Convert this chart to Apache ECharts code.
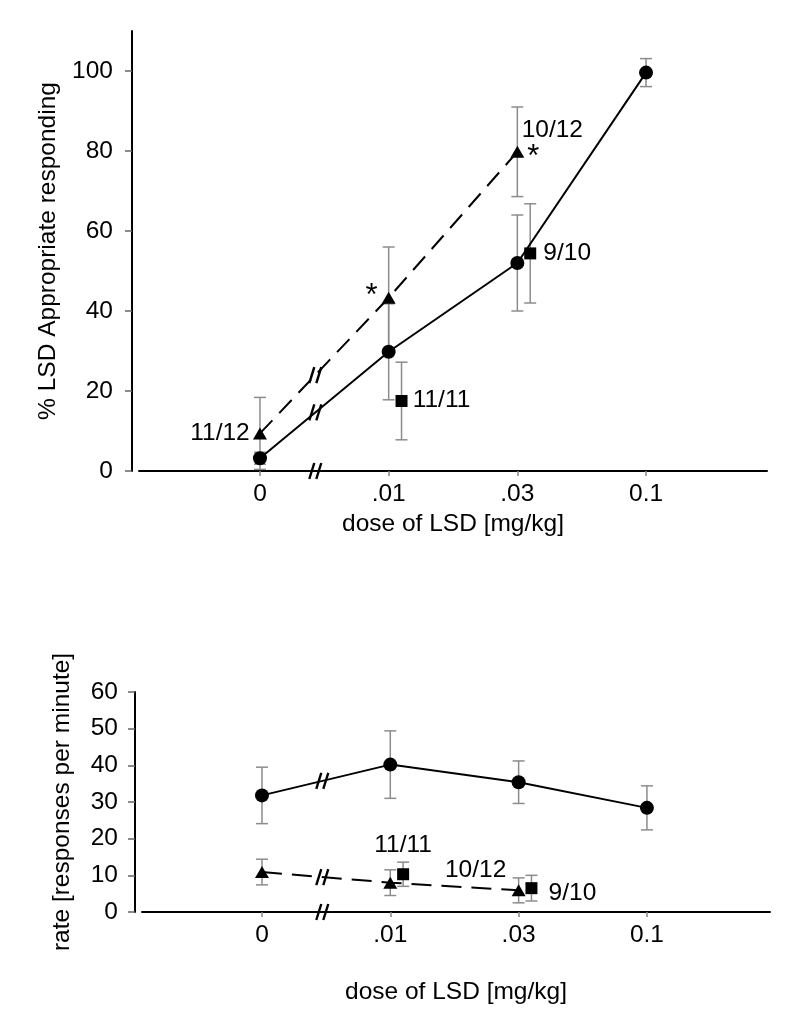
<!DOCTYPE html>
<html><head><meta charset="utf-8">
<script src="https://cdn.jsdelivr.net/npm/echarts@6/dist/echarts.min.js"></script>
<style>html,body{margin:0;padding:0;background:#fff}#c{width:800px;height:1036px}</style>
</head><body><div id="c"></div>
<script>
// ---------- data ----------
const doseLabels = ['0', '.01', '.03', '0.1'];
const doseIdx = [0, 1, 2, 3];
const yTicksTop = [0, 20, 40, 60, 80, 100];
const yTicksBottom = [0, 10, 20, 30, 40, 50, 60];

// top panel: % LSD appropriate responding
const topCircleMean = [3.2, 29.8, 52.0, 99.6];
const topCircleErr  = [1.5, 12.0, 12.0, 3.5];
const topTriMean = [9.4, 43.3, 79.8];
const topTriErr  = [9.0, 12.7, 11.2];
const topSqDose  = [1, 2];
const topSqMean  = [17.5, 54.4];
const topSqErr   = [9.7, 12.4];

// bottom panel: rate [responses per minute]
const botCircleMean = [31.8, 40.2, 35.4, 28.4];
const botCircleErr  = [7.7, 9.2, 5.8, 6.0];
const botTriMean = [10.9, 8.0, 5.9];
const botTriErr  = [3.5, 3.5, 3.4];
const botSqDose  = [1, 2];
const botSqMean  = [10.3, 6.5];
const botSqErr   = [3.3, 3.5];

// n labels
const topTriLabels = ['11/12', '*', '10/12'];
const topSqLabels  = ['11/11', '9/10'];
const botSqLabels  = ['11/11', '9/10'];
const botTriLabels = ['', '', '10/12'];

// ---------- helpers ----------
const FONT = '"Liberation Sans", Arial, sans-serif';
const FS = 24.5;
const SQ_SHIFT = 0.1;
const txt = {fontFamily: FONT, fontSize: FS, color: '#000'};

function errSeries(g, xs, means, errs) {
  return {
    type: 'custom', xAxisIndex: g, yAxisIndex: g, z: 1, silent: true,
    data: xs.map((x, i) => [x, means[i] - errs[i], means[i] + errs[i]]),
    renderItem(params, api) {
      const lo = api.coord([api.value(0), api.value(1)]);
      const hi = api.coord([api.value(0), api.value(2)]);
      const w = 6;
      const st = {stroke: '#8c8c8c', lineWidth: 1.5, fill: null};
      return {type: 'group', children: [
        {type: 'line', shape: {x1: lo[0], y1: lo[1], x2: hi[0], y2: hi[1]}, style: st},
        {type: 'line', shape: {x1: lo[0] - w, y1: lo[1], x2: lo[0] + w, y2: lo[1]}, style: st},
        {type: 'line', shape: {x1: hi[0] - w, y1: hi[1], x2: hi[0] + w, y2: hi[1]}, style: st}
      ]};
    }
  };
}

function breakSeries(g, pts) {
  return {
    type: 'custom', xAxisIndex: g, yAxisIndex: g, z: 6, silent: true,
    data: pts,
    renderItem(params, api) {
      const c = api.coord([api.value(0), api.value(1)]);
      const st = {stroke: '#000', lineWidth: 2.4, fill: null};
      const h = 8, s = 2.5, d = 3.5;
      return {type: 'group', children: [-d, d].map(o => ({
        type: 'line',
        shape: {x1: c[0] + o - s, y1: c[1] + h, x2: c[0] + o + s, y2: c[1] - h},
        style: st
      }))};
    }
  };
}
const lerp = (a, b, t) => a + (b - a) * t;

function lbl(text, off) {
  if (!text) return {show: false};
  const star = text === '*';
  return {show: true, formatter: text, position: 'inside', offset: off,
          fontFamily: FONT, fontSize: star ? 31 : FS, color: '#000'};
}

function xAxisCfg(g, min, max, nameGap) {
  return {
    type: 'value', gridIndex: g, min: min, max: max,
    axisLine: {show: true, onZero: false, lineStyle: {color: '#000', width: 2}},
    axisTick: {show: true, customValues: doseIdx, length: 5, lineStyle: {color: '#888', width: 1.5}},
    axisLabel: {customValues: doseIdx, formatter: v => doseLabels[Math.round(v)], margin: 11, ...txt},
    splitLine: {show: false},
    name: 'dose of LSD [mg/kg]', nameLocation: 'middle', nameGap: nameGap, nameTextStyle: txt
  };
}
function yAxisCfg(g, max, ticks, offset, margin, name, nameGap) {
  return {
    type: 'value', gridIndex: g, min: 0, max: max, offset: offset,
    axisLine: {show: true, onZero: false, lineStyle: {color: '#000', width: 2}},
    axisTick: {show: true, customValues: ticks, length: 7, lineStyle: {color: '#666', width: 1.5}},
    axisLabel: {customValues: ticks, margin: margin, ...txt},
    splitLine: {show: false},
    name: name, nameLocation: 'middle', nameRotate: 90, nameGap: nameGap, nameTextStyle: txt
  };
}

const topBreakX = 0.43, botBreakX = 0.47;

const solid = {color: '#000', width: 2};
const black = {color: '#000', opacity: 1};
const option = {
  animation: false,
  backgroundColor: '#fff',
  grid: [
    {left: 139, top: 31, width: 628, height: 440},
    {left: 142, top: 692, width: 628, height: 220}
  ],
  xAxis: [xAxisCfg(0, -0.94, 3.94, 41), xAxisCfg(1, -0.935, 3.959, 68)],
  yAxis: [
    yAxisCfg(0, 110, yTicksTop, 7, 19, '% LSD Appropriate responding', 68),
    yAxisCfg(1, 60, yTicksBottom, 7, 17, 'rate [responses per minute]', 60)
  ],
  series: [
    // ---- top panel ----
    errSeries(0, doseIdx, topCircleMean, topCircleErr),
    errSeries(0, [0, 1, 2], topTriMean, topTriErr),
    errSeries(0, topSqDose.map(d => d + SQ_SHIFT), topSqMean, topSqErr),
    {type: 'line', xAxisIndex: 0, yAxisIndex: 0, z: 3,
     data: topCircleMean.map((v, i) => [doseIdx[i], v]),
     symbol: 'circle', symbolSize: 14, itemStyle: black, lineStyle: solid},
    {type: 'line', xAxisIndex: 0, yAxisIndex: 0, z: 3,
     data: topTriMean.map((v, i) => ({value: [doseIdx[i], v],
       label: lbl(topTriLabels[i], [[-40, 0], [-17, -1], [35, -22]][i])})),
     symbol: 'triangle', symbolSize: [14, 12], itemStyle: black,
     lineStyle: {color: '#000', width: 2, type: [18, 10]}},
    {type: 'scatter', xAxisIndex: 0, yAxisIndex: 0, z: 3,
     data: [{value: [2, topTriMean[2]], label: lbl('*', [16, 6])}],
     symbolSize: 1, itemStyle: {color: 'rgba(0,0,0,0)', opacity: 1}},
    {type: 'scatter', xAxisIndex: 0, yAxisIndex: 0, z: 3,
     data: topSqMean.map((v, i) => ({value: [topSqDose[i] + SQ_SHIFT, v],
       label: lbl(topSqLabels[i], [[40, -1], [37, 0]][i])})),
     symbol: 'rect', symbolSize: 12, itemStyle: black},
    breakSeries(0, [
      [topBreakX, 0],
      [topBreakX, lerp(topCircleMean[0], topCircleMean[1], topBreakX)],
      [topBreakX, lerp(topTriMean[0], topTriMean[1], topBreakX)]
    ]),
    // ---- bottom panel ----
    errSeries(1, doseIdx, botCircleMean, botCircleErr),
    errSeries(1, [0, 1, 2], botTriMean, botTriErr),
    errSeries(1, botSqDose.map(d => d + SQ_SHIFT), botSqMean, botSqErr),
    {type: 'line', xAxisIndex: 1, yAxisIndex: 1, z: 3,
     data: botCircleMean.map((v, i) => [doseIdx[i], v]),
     symbol: 'circle', symbolSize: 14, itemStyle: black, lineStyle: solid},
    {type: 'line', xAxisIndex: 1, yAxisIndex: 1, z: 3,
     data: botTriMean.map((v, i) => ({value: [doseIdx[i], v],
       label: lbl(botTriLabels[i], [[0, 0], [0, 0], [-43, -20]][i])})),
     symbol: 'triangle', symbolSize: [14, 12], itemStyle: black,
     lineStyle: {color: '#000', width: 2, type: [20, 10]}},
    {type: 'scatter', xAxisIndex: 1, yAxisIndex: 1, z: 3,
     data: botSqMean.map((v, i) => ({value: [botSqDose[i] + SQ_SHIFT, v],
       label: lbl(botSqLabels[i], [[0, -29], [41, 5]][i])})),
     symbol: 'rect', symbolSize: 12, itemStyle: black},
    breakSeries(1, [
      [botBreakX, 0],
      [botBreakX, lerp(botCircleMean[0], botCircleMean[1], botBreakX)],
      [botBreakX, lerp(botTriMean[0], botTriMean[1], botBreakX)]
    ])
  ]
};

const chart = echarts.init(document.getElementById('c'), null, {renderer: 'canvas'});
chart.setOption(option);
</script>
</body></html>
